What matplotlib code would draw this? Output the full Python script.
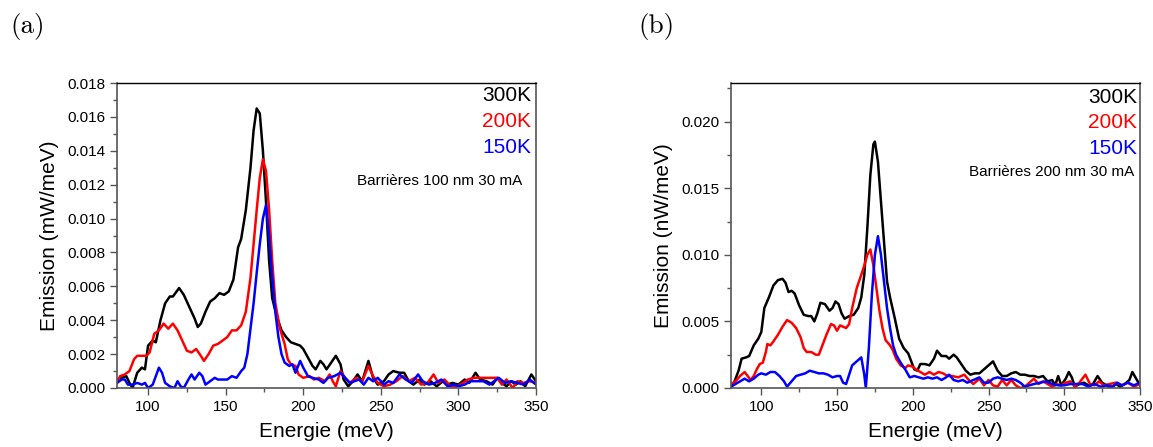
import matplotlib.pyplot as plt
from matplotlib.ticker import MultipleLocator

plt.rcParams['font.family'] = ['Liberation Sans', 'DejaVu Sans']

# panel (a) : barrieres 100 nm, 30 mA
e_a_300 = [80, 83, 86, 88, 90, 93, 96, 98, 100, 103, 105, 108, 111, 114, 116, 120, 123, 127, 130, 132,
           134, 137, 140, 143, 146, 149, 152, 155, 158, 160, 163, 166, 168, 170, 172, 174, 176, 178, 180, 183,
           186, 189, 192, 195, 198, 200, 203, 206, 208, 211, 213, 215, 218, 221, 224, 226, 229, 232, 235, 238,
           242, 245, 248, 252, 255, 258, 262, 265, 268, 271, 275, 278, 282, 286, 290, 293, 296, 300, 304, 307,
           311, 314, 318, 322, 325, 328, 331, 334, 337, 340, 343, 347, 350]
a_300 = [0.0005, 0.0006, 0.0007, 0.0003, 0.0000, 0.0009, 0.0012, 0.0011, 0.0025, 0.0028, 0.0027, 0.0040,
         0.0050, 0.0054, 0.0054, 0.0059, 0.0055, 0.0047, 0.0041, 0.0036, 0.0038, 0.0045, 0.0051, 0.0053,
         0.0056, 0.0055, 0.0057, 0.0064, 0.0083, 0.0088, 0.0105, 0.0130, 0.0152, 0.0165, 0.0162, 0.0140,
         0.0110, 0.0075, 0.0053, 0.0042, 0.0034, 0.0030, 0.0027, 0.0026, 0.0025, 0.0023, 0.0018, 0.0013,
         0.0011, 0.0016, 0.0014, 0.0011, 0.0015, 0.0019, 0.0014, 0.0005, 0.0001, 0.0004, 0.0008, 0.0004,
         0.0016, 0.0006, 0.0002, 0.0004, 0.0008, 0.0010, 0.0009, 0.0009, 0.0004, 0.0002, 0.0005, 0.0002,
         0.0004, 0.0001, 0.0004, 0.0002, 0.0003, 0.0002, 0.0005, 0.0003, 0.0009, 0.0005, 0.0004, 0.0002,
         0.0006, 0.0003, 0.0001, 0.0004, 0.0002, 0.0004, 0.0001, 0.0008, 0.0004]

e_a_200 = [80, 82, 85, 88, 91, 93, 96, 99, 101, 104, 107, 110, 113, 116, 119, 122, 125, 128, 131, 134,
           136, 139, 142, 145, 148, 151, 154, 157, 160, 163, 166, 168, 170, 172, 174, 176, 178, 180, 182, 185,
           188, 190, 192, 195, 197, 200, 204, 207, 210, 214, 217, 219, 221, 224, 227, 230, 234, 238, 242, 245,
           248, 252, 256, 260, 264, 268, 272, 276, 280, 284, 287, 291, 295, 299, 303, 306, 310, 315, 320, 325,
           328, 331, 335, 338, 342, 346, 350]
a_200 = [0.0003, 0.0007, 0.0008, 0.0010, 0.0017, 0.0019, 0.0019, 0.0019, 0.0021, 0.0032, 0.0034, 0.0038,
         0.0035, 0.0038, 0.0034, 0.0028, 0.0022, 0.0021, 0.0023, 0.0019, 0.0016, 0.0020, 0.0025, 0.0026,
         0.0028, 0.0030, 0.0034, 0.0034, 0.0037, 0.0045, 0.0065, 0.0085, 0.0105, 0.0124, 0.0135, 0.0128,
         0.0105, 0.0075, 0.0050, 0.0035, 0.0026, 0.0017, 0.0014, 0.0013, 0.0008, 0.0006, 0.0007, 0.0005,
         0.0006, 0.0004, 0.0008, 0.0004, 0.0001, 0.0010, 0.0006, 0.0003, 0.0006, 0.0004, 0.0013, 0.0007,
         0.0003, 0.0001, 0.0002, 0.0004, 0.0007, 0.0004, 0.0006, 0.0002, 0.0003, 0.0008, 0.0003, 0.0005,
         0.0001, 0.0001, 0.0003, 0.0005, 0.0006, 0.0006, 0.0006, 0.0006, 0.0002, 0.0005, 0.0000, 0.0004,
         0.0003, 0.0004, 0.0003]

e_a_150 = [80, 83, 85, 87, 90, 93, 96, 98, 100, 103, 105, 107, 109, 111, 114, 117, 119, 121, 123, 126,
           128, 130, 133, 135, 137, 140, 143, 145, 148, 151, 154, 157, 160, 162, 164, 166, 168, 170, 172, 174,
           176, 178, 180, 182, 184, 186, 188, 191, 193, 195, 198, 200, 203, 206, 210, 213, 216, 220, 224, 227,
           230, 233, 236, 239, 242, 245, 248, 252, 255, 258, 262, 266, 270, 274, 277, 281, 285, 289, 293, 297,
           300, 304, 308, 312, 316, 320, 323, 326, 330, 334, 338, 342, 346, 350]
a_150 = [0.0003, 0.0005, 0.0005, 0.0002, 0.0002, 0.0003, 0.0002, 0.0003, 0.0000, 0.0002, 0.0007, 0.0012,
         0.0009, 0.0003, 0.0001, 0.0000, 0.0004, 0.0001, 0.0000, 0.0005, 0.0008, 0.0005, 0.0009, 0.0007,
         0.0002, 0.0004, 0.0006, 0.0005, 0.0005, 0.0005, 0.0007, 0.0006, 0.0010, 0.0012, 0.0020, 0.0035,
         0.0050, 0.0068, 0.0085, 0.0100, 0.0108, 0.0090, 0.0065, 0.0045, 0.0030, 0.0020, 0.0015, 0.0013,
         0.0014, 0.0009, 0.0016, 0.0012, 0.0007, 0.0006, 0.0005, 0.0003, 0.0006, 0.0007, 0.0009, 0.0006,
         0.0003, 0.0004, 0.0005, 0.0002, 0.0006, 0.0004, 0.0006, 0.0002, 0.0004, 0.0003, 0.0008, 0.0005,
         0.0003, 0.0008, 0.0004, 0.0002, 0.0003, 0.0005, 0.0001, 0.0002, 0.0001, 0.0002, 0.0004, 0.0004,
         0.0004, 0.0002, 0.0004, 0.0006, 0.0003, 0.0004, 0.0003, 0.0002, 0.0005, 0.0002]

# panel (b) : barrieres 200 nm, 30 mA
e_b_300 = [80, 82, 85, 87, 90, 92, 95, 98, 100, 102, 105, 108, 111, 114, 116, 118, 120, 122, 125, 128,
           131, 133, 135, 137, 139, 142, 145, 147, 149, 151, 153, 155, 158, 161, 164, 166, 168, 170, 172, 174,
           175, 177, 179, 181, 183, 185, 188, 191, 194, 197, 199, 201, 203, 205, 208, 211, 214, 216, 219, 222,
           224, 227, 229, 232, 235, 238, 241, 244, 247, 251, 253, 256, 259, 262, 265, 268, 271, 274, 277, 280,
           283, 286, 289, 292, 294, 296, 298, 301, 303, 305, 307, 310, 313, 316, 319, 322, 325, 328, 331, 334,
           337, 340, 343, 345, 347, 350]
b_300 = [0.0002, 0.0004, 0.0013, 0.0022, 0.0023, 0.0024, 0.0032, 0.0037, 0.0042, 0.0060, 0.0068, 0.0077,
         0.0081, 0.0082, 0.0079, 0.0072, 0.0073, 0.0071, 0.0062, 0.0055, 0.0054, 0.0054, 0.0050, 0.0056,
         0.0064, 0.0063, 0.0058, 0.0060, 0.0065, 0.0063, 0.0056, 0.0052, 0.0054, 0.0055, 0.0060, 0.0068,
         0.0085, 0.0120, 0.0160, 0.0183, 0.0185, 0.0170, 0.0140, 0.0110, 0.0080, 0.0068, 0.0053, 0.0037,
         0.0030, 0.0026, 0.0020, 0.0014, 0.0013, 0.0018, 0.0018, 0.0017, 0.0022, 0.0028, 0.0024, 0.0024,
         0.0022, 0.0025, 0.0023, 0.0018, 0.0013, 0.0010, 0.0011, 0.0011, 0.0014, 0.0018, 0.0020, 0.0013,
         0.0009, 0.0009, 0.0011, 0.0012, 0.0010, 0.0010, 0.0009, 0.0009, 0.0008, 0.0009, 0.0005, 0.0006,
         0.0002, 0.0009, 0.0002, 0.0007, 0.0012, 0.0008, 0.0001, 0.0003, 0.0004, 0.0002, 0.0003, 0.0009,
         0.0004, 0.0002, 0.0000, 0.0003, 0.0001, 0.0003, 0.0006, 0.0012, 0.0008, 0.0002]

e_b_200 = [80, 83, 86, 89, 91, 93, 95, 97, 99, 101, 103, 104, 106, 108, 111, 114, 117, 120, 123, 126,
           128, 130, 133, 136, 138, 140, 143, 146, 148, 150, 152, 154, 156, 158, 160, 163, 166, 168, 170, 172,
           174, 176, 178, 180, 182, 185, 187, 189, 192, 195, 197, 200, 202, 205, 208, 211, 214, 217, 220, 223,
           226, 230, 234, 237, 240, 244, 247, 250, 253, 256, 259, 262, 265, 268, 271, 274, 277, 280, 283, 286,
           289, 292, 295, 298, 301, 304, 307, 310, 314, 317, 320, 323, 326, 330, 334, 338, 342, 346, 350]
b_200 = [0.0003, 0.0005, 0.0009, 0.0012, 0.0009, 0.0006, 0.0009, 0.0014, 0.0018, 0.0019, 0.0027, 0.0033,
         0.0032, 0.0035, 0.0040, 0.0046, 0.0051, 0.0049, 0.0045, 0.0038, 0.0030, 0.0027, 0.0027, 0.0025,
         0.0025, 0.0031, 0.0040, 0.0048, 0.0047, 0.0043, 0.0047, 0.0046, 0.0045, 0.0048, 0.0060, 0.0075,
         0.0085, 0.0092, 0.0100, 0.0104, 0.0092, 0.0075, 0.0058, 0.0045, 0.0036, 0.0032, 0.0028, 0.0022,
         0.0017, 0.0015, 0.0017, 0.0016, 0.0014, 0.0012, 0.0010, 0.0012, 0.0010, 0.0012, 0.0011, 0.0009,
         0.0009, 0.0008, 0.0010, 0.0006, 0.0003, 0.0007, 0.0002, 0.0006, 0.0002, 0.0001, 0.0006, 0.0002,
         0.0006, 0.0002, 0.0000, 0.0001, 0.0004, 0.0007, 0.0003, 0.0005, 0.0003, 0.0001, 0.0003, 0.0002,
         0.0004, 0.0005, 0.0001, 0.0004, 0.0010, 0.0003, 0.0002, 0.0005, 0.0002, 0.0003, 0.0004, 0.0002,
         0.0004, 0.0001, 0.0003]

e_b_150 = [80, 83, 86, 89, 92, 95, 98, 100, 103, 106, 109, 112, 115, 117, 120, 123, 126, 129, 132, 135,
           138, 141, 144, 147, 150, 152, 154, 156, 158, 160, 162, 164, 166, 168, 169, 171, 173, 175, 177, 179,
           181, 183, 185, 187, 189, 192, 195, 198, 201, 204, 207, 210, 213, 216, 219, 222, 224, 227, 230, 233,
           236, 240, 244, 247, 250, 253, 256, 259, 262, 265, 268, 271, 274, 277, 280, 284, 288, 292, 296, 300,
           304, 308, 312, 316, 320, 324, 328, 332, 335, 338, 342, 346, 350]
b_150 = [0.0001, 0.0003, 0.0005, 0.0007, 0.0005, 0.0007, 0.0010, 0.0011, 0.0010, 0.0012, 0.0012, 0.0009,
         0.0005, 0.0001, 0.0005, 0.0009, 0.0010, 0.0011, 0.0013, 0.0012, 0.0011, 0.0011, 0.0010, 0.0008,
         0.0009, 0.0009, 0.0004, 0.0003, 0.0010, 0.0017, 0.0019, 0.0021, 0.0023, 0.0010, 0.0000, 0.0030,
         0.0070, 0.0100, 0.0114, 0.0100, 0.0080, 0.0060, 0.0045, 0.0032, 0.0025, 0.0019, 0.0014, 0.0008,
         0.0009, 0.0008, 0.0007, 0.0008, 0.0007, 0.0008, 0.0006, 0.0008, 0.0010, 0.0006, 0.0005, 0.0006,
         0.0004, 0.0006, 0.0008, 0.0004, 0.0004, 0.0007, 0.0008, 0.0007, 0.0006, 0.0007, 0.0006, 0.0004,
         0.0001, 0.0002, 0.0003, 0.0004, 0.0005, 0.0003, 0.0002, 0.0002, 0.0003, 0.0003, 0.0003, 0.0001,
         0.0003, 0.0001, 0.0002, 0.0001, 0.0004, 0.0002, 0.0004, 0.0002, 0.0004]

labels = ["300K", "200K", "150K"]
colors = ["black", "red", "blue"]

fig = plt.figure(figsize=(11.53, 4.47), dpi=100)
ax_a = fig.add_axes([0.1015, 0.132, 0.3634, 0.6823])
ax_b = fig.add_axes([0.634, 0.132, 0.3547, 0.6823])

panels = [
    (ax_a, [(e_a_300, a_300), (e_a_200, a_200), (e_a_150, a_150)], 0.018, 0.002, 0.001,
     "Emission (mW/meV)", "Barrières 100 nm 30 mA", 0.988, 0.96),
    (ax_b, [(e_b_300, b_300), (e_b_200, b_200), (e_b_150, b_150)], 0.0229, 0.005, 0.0025,
     "Emission (nW/meV)", "Barrières 200 nm 30 mA", 0.993, 0.954),
]

for ax, curves, ytop, ymaj, ymin, ylab, note, xr, ytxt in panels:
    for (x, y), c in zip(curves, colors):
        ax.plot(x, y, color=c, lw=1.8, solid_joinstyle="round")
    ax.set_xlim(80, 350)
    ax.set_ylim(0, ytop)
    ax.xaxis.set_major_locator(MultipleLocator(50))
    ax.xaxis.set_minor_locator(MultipleLocator(25))
    ax.yaxis.set_major_locator(MultipleLocator(ymaj))
    ax.yaxis.set_minor_locator(MultipleLocator(ymin))
    ax.yaxis.set_major_formatter(plt.FormatStrFormatter("%.3f"))
    ax.tick_params(which="both", direction="out", labelsize=11, color="#555555", top=False, right=False)
    ax.tick_params(which="major", length=5, width=1)
    ax.tick_params(which="minor", length=3, width=1)
    for side in ["left", "right", "bottom"]:
        ax.spines[side].set_color("#555555")
        ax.spines[side].set_linewidth(1.2)
    ax.spines["top"].set_linewidth(1.0)
    ax.set_xlabel("Energie (meV)", fontsize=15, labelpad=6)
    ax.set_ylabel(ylab, fontsize=15, labelpad=6)

    for i, (lab, c) in enumerate(zip(labels, colors)):
        ax.text(xr, ytxt - 0.085 * i, lab, color=c, fontsize=15, ha="right", va="center",
                transform=ax.transAxes)
    ax.text(xr - 0.02 if ax is ax_a else xr - 0.008, ytxt - 0.28 if ax is ax_a else ytxt - 0.245,
            note, fontsize=11, ha="right", va="center", transform=ax.transAxes)

fig.text(10 / 1153, 1 - 27 / 447, "(a)", family="cmr10", fontsize=19.5, va="center")
fig.text(638 / 1153, 1 - 27 / 447, "(b)", family="cmr10", fontsize=19.5, va="center")

fig.savefig("out.png", dpi=100)
